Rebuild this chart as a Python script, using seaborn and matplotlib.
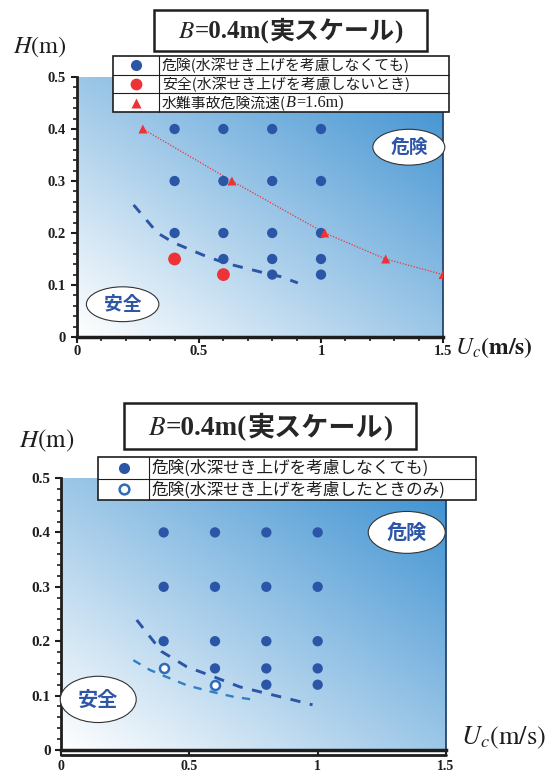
import numpy as np
import matplotlib
matplotlib.use("Agg")
import matplotlib.pyplot as plt
import seaborn as sns
from matplotlib.patches import Ellipse, Rectangle
from matplotlib.colors import LinearSegmentedColormap
from matplotlib.offsetbox import TextArea, HPacker, AnnotationBbox
from matplotlib.ticker import MultipleLocator

# ---------------- data ----------------
# upper panel: dangerous / safe cases without backwater rise
uc_danger_a = [0.4, 0.4, 0.4, 0.6, 0.6, 0.6, 0.6, 0.8, 0.8, 0.8, 0.8, 0.8, 1.0, 1.0, 1.0, 1.0, 1.0]
h_danger_a = [0.4, 0.3, 0.2, 0.4, 0.3, 0.2, 0.15, 0.4, 0.3, 0.2, 0.15, 0.12, 0.4, 0.3, 0.2, 0.15, 0.12]
uc_safe_a = [0.4, 0.6]
h_safe_a = [0.15, 0.12]
# critical velocity for water accidents (B=1.6m)
uc_accident = [0.27, 0.635, 1.015, 1.265, 1.50]
h_accident = [0.40, 0.30, 0.20, 0.15, 0.12]
# boundary between safe and dangerous
uc_bound_a = [0.232, 0.330, 0.398, 0.535, 0.617, 0.753, 0.835, 0.905]
h_bound_a = [0.254, 0.200, 0.181, 0.154, 0.141, 0.125, 0.116, 0.104]

# lower panel: dangerous cases with / without backwater rise
uc_danger_b = [0.4, 0.4, 0.4, 0.6, 0.6, 0.6, 0.6, 0.8, 0.8, 0.8, 0.8, 0.8, 1.0, 1.0, 1.0, 1.0, 1.0]
h_danger_b = [0.4, 0.3, 0.2, 0.4, 0.3, 0.2, 0.15, 0.4, 0.3, 0.2, 0.15, 0.12, 0.4, 0.3, 0.2, 0.15, 0.12]
uc_backwater = [0.4, 0.6]
h_backwater = [0.15, 0.12]
uc_bound_b1 = [0.295, 0.347, 0.392, 0.490, 0.593, 0.697, 0.801, 0.905, 0.980]
h_bound_b1 = [0.239, 0.208, 0.181, 0.153, 0.135, 0.116, 0.104, 0.092, 0.083]
uc_bound_b2 = [0.282, 0.347, 0.392, 0.490, 0.587, 0.671, 0.743]
h_bound_b2 = [0.165, 0.147, 0.138, 0.119, 0.107, 0.098, 0.093]

x_ticks = [0, 0.5, 1, 1.5]
x_ticklabels = ["0", "0.5", "1", "1.5"]
y_ticks = [0, 0.1, 0.2, 0.3, 0.4, 0.5]
y_ticklabels = ["0", "0.1", "0.2", "0.3", "0.4", "0.5"]

title_parts = ["B", "=0.4m(", "実スケール", ")"]
legend_a = ["危険(水深せき上げを考慮しなくても)",
            "安全(水深せき上げを考慮しないとき)",
            "水難事故危険流速("]
legend_b = ["危険(水深せき上げを考慮しなくても)",
            "危険(水深せき上げを考慮したときのみ)"]
zone_labels = ["危険", "安全"]

# ---------------- style ----------------
sns.set_style("ticks")
plt.rcParams["font.family"] = ["Liberation Serif", "Noto Sans CJK JP", "DejaVu Sans"]
plt.rcParams["mathtext.fontset"] = "stix"

BLUE = "#2b55a6"
BLUE_OPEN = "#2f6cb8"
LIGHT_BLUE = "#2f80c6"
RED = "#ee3338"
ZONE_TXT = "#2f56a6"
INK = "#1e1e1e"
SERIF = "Liberation Serif"
GOTHIC = "Noto Sans CJK JP"

W, H = 554, 774
fig = plt.figure(figsize=(W / 100, H / 100), dpi=100)


def px_axes(x0, x1, ytop, ybot):
    return fig.add_axes([x0 / W, 1 - ybot / H, (x1 - x0) / W, (ybot - ytop) / H])


bg_cmap = LinearSegmentedColormap.from_list("bg", ["#ffffff", "#3a8fd0"])
gx, gy = np.meshgrid(np.linspace(0, 1, 300), np.linspace(0, 1, 300))
bg = (gx + gy) / 2


def setup_axes(ax, minor_x, labelsize, xpad, ypad):
    ax.imshow(bg, extent=[0, 1.5, 0, 0.5], origin="lower", aspect="auto",
              cmap=bg_cmap, vmin=0, vmax=1, zorder=0, interpolation="bilinear")
    ax.set_xlim(0, 1.5)
    ax.set_ylim(0, 0.5)
    ax.set_xticks(x_ticks)
    ax.set_xticklabels(x_ticklabels)
    ax.set_yticks(y_ticks)
    ax.set_yticklabels(y_ticklabels)
    ax.yaxis.set_minor_locator(MultipleLocator(0.02))
    if minor_x:
        ax.xaxis.set_minor_locator(MultipleLocator(0.1))
    ax.tick_params(which="major", direction="out", length=4, width=1.5,
                   color=INK, labelsize=labelsize)
    ax.tick_params(which="major", axis="x", pad=xpad)
    ax.tick_params(which="major", axis="y", pad=ypad)
    ax.tick_params(which="minor", direction="out", length=3, width=1.2, color=INK)
    for lab in ax.get_xticklabels() + ax.get_yticklabels():
        lab.set_fontweight("bold")
        lab.set_family(SERIF)
        lab.set_color(INK)
    ax.spines["top"].set_visible(False)
    ax.spines["left"].set_linewidth(2)
    ax.spines["left"].set_color(INK)
    ax.spines["bottom"].set_linewidth(2.5)
    ax.spines["bottom"].set_color(INK)
    ax.spines["right"].set_linewidth(1.3)
    ax.spines["right"].set_color("#23456f")
    ax.set_xlabel("")
    ax.set_ylabel("")


def zone(ax, cx, cy, w, h, text, size):
    ax.add_patch(Ellipse((cx, cy), w, h, fc="white", ec="#333333", lw=0.8,
                         zorder=5, clip_on=False))
    ax.text(cx, cy, text, ha="center", va="center", fontsize=size,
            fontweight="bold", family=GOTHIC, color=ZONE_TXT, zorder=6)


# ---------------- upper panel ----------------
ax1 = px_axes(77, 443, 77, 337)
sns.lineplot(x=uc_accident, y=h_accident, ax=ax1, sort=False, estimator=None,
             color=RED, lw=0.9, linestyle=(0, (1, 1.3)), zorder=3)
sns.lineplot(x=uc_bound_a, y=h_bound_a, ax=ax1, sort=False, estimator=None,
             color=BLUE, lw=2.1, linestyle=(0, (3.5, 3.3)), zorder=3)
sns.scatterplot(x=uc_danger_a, y=h_danger_a, ax=ax1, color=BLUE, s=55,
                edgecolor="none", zorder=4)
sns.scatterplot(x=uc_safe_a, y=h_safe_a, ax=ax1, color=RED, s=85,
                edgecolor="none", zorder=4)
sns.scatterplot(x=uc_accident, y=h_accident, ax=ax1, color=RED, marker="^",
                s=42, edgecolor="none", zorder=4)
setup_axes(ax1, minor_x=True, labelsize=10.5, xpad=2, ypad=4)
zone(ax1, 1.36, 0.365, 0.295, 0.069, zone_labels[0], 13.5)
zone(ax1, 0.187, 0.063, 0.297, 0.067, zone_labels[1], 13.5)

# ---------------- lower panel ----------------
ax2 = px_axes(61, 446, 478, 750)
sns.lineplot(x=uc_bound_b1, y=h_bound_b1, ax=ax2, sort=False, estimator=None,
             color=BLUE, lw=2.1, linestyle=(0, (3.5, 3.3)), zorder=3)
sns.lineplot(x=uc_bound_b2, y=h_bound_b2, ax=ax2, sort=False, estimator=None,
             color=LIGHT_BLUE, lw=1.7, linestyle=(0, (3.5, 3.5)), zorder=3)
sns.scatterplot(x=uc_danger_b, y=h_danger_b, ax=ax2, color=BLUE, s=55,
                edgecolor="none", zorder=4)
sns.scatterplot(x=uc_backwater, y=h_backwater, ax=ax2, color="white", s=42,
                edgecolor=BLUE_OPEN, linewidth=1.8, zorder=4)
setup_axes(ax2, minor_x=False, labelsize=11, xpad=3, ypad=3.5)
ax2.tick_params(which="major", axis="x", labelsize=10)
ax2.plot([0, 1], [-0.019, -0.019], transform=ax2.transAxes, color=INK,
         lw=2, clip_on=False, zorder=6)
zone(ax2, 1.347, 0.40, 0.30, 0.077, zone_labels[0], 14.5)
zone(ax2, 0.145, 0.093, 0.296, 0.085, zone_labels[1], 14.5)

# ---------------- overlay: titles, axis names, legend tables ----------------
ov = fig.add_axes([0, 0, 1, 1], zorder=10)
ov.set_xlim(0, W)
ov.set_ylim(H, 0)
ov.axis("off")


def runs(x, y, parts, align=(0, 0.5)):
    boxes = [TextArea(t, textprops=p) for t, p in parts]
    pack = HPacker(children=boxes, align="baseline", pad=0, sep=0)
    ab = AnnotationBbox(pack, (x, y), xycoords="data", box_alignment=align,
                        frameon=False, pad=0, zorder=12)
    ov.add_artist(ab)


def title(x0, y0, x1, y1, size):
    ov.add_patch(Rectangle((x0, y0), x1 - x0, y1 - y0, fc="white", ec=INK, lw=1.8, zorder=11))
    parts = [(r"$B$", dict(size=size)),
             (title_parts[1], dict(family=SERIF, weight="bold", size=size)),
             (title_parts[2], dict(family=GOTHIC, weight="bold", size=size)),
             (title_parts[3], dict(family=SERIF, weight="bold", size=size))]
    runs((x0 + x1) / 2, (y0 + y1) / 2 + 1, parts, align=(0.5, 0.5))


def table(x0, x1, y0, y1, xdiv, rows):
    n = len(rows)
    rh = (y1 - y0) / n
    ov.add_patch(Rectangle((x0, y0), x1 - x0, y1 - y0, fc="white", ec=INK, lw=1.2, zorder=11))
    ov.plot([xdiv, xdiv], [y0, y1], color=INK, lw=0.8, zorder=11)
    for i in range(1, n):
        ov.plot([x0, x1], [y0 + i * rh] * 2, color=INK, lw=0.8, zorder=11)
    for i, (mk, parts) in enumerate(rows):
        yc = y0 + (i + 0.5) * rh
        ov.plot([(x0 + xdiv) / 2], [yc], zorder=12, **mk)
        runs(xdiv + 3, yc + 0.5, parts)


title(154, 10, 427, 51, 18)
title(124, 403, 416, 449, 19.5)

fs_a = 10.7
table(113, 449, 56, 112, 159, [
    (dict(marker="o", ms=8, color=BLUE, mec="none"),
     [(legend_a[0], dict(family=GOTHIC, size=fs_a, color=INK))]),
    (dict(marker="o", ms=8.5, color=RED, mec="none"),
     [(legend_a[1], dict(family=GOTHIC, size=fs_a, color=INK))]),
    (dict(marker="^", ms=7, color=RED, mec="none"),
     [(legend_a[2], dict(family=GOTHIC, size=fs_a, color=INK)),
      ("B", dict(family=SERIF, style="italic", size=fs_a + 1, color=INK)),
      ("=1.6m)", dict(family=SERIF, size=fs_a + 1, color=INK))]),
])

fs_b = 12
table(98, 476, 457, 500, 149, [
    (dict(marker="o", ms=8, color=BLUE, mec="none"),
     [(legend_b[0], dict(family=GOTHIC, size=fs_b, color=INK))]),
    (dict(marker="o", ms=7, color="white", mec=BLUE_OPEN, mew=1.8),
     [(legend_b[1], dict(family=GOTHIC, size=fs_b, color=INK))]),
])

# axis names
ov.text(40, 47, r"$H\mathrm{(m)}$", ha="center", va="center", size=17.5, color=INK)
ov.text(47, 441, r"$H\mathrm{(m)}$", ha="center", va="center", size=18, color=INK)
ov.text(494, 348, r"$U_c\mathbf{(m/s)}$", ha="center", va="center", size=17, color=INK)
ov.text(503, 738, r"$U_c\mathrm{(m/s)}$", ha="center", va="center", size=19, color=INK)

fig.savefig("out.png", dpi=100, facecolor="white")
